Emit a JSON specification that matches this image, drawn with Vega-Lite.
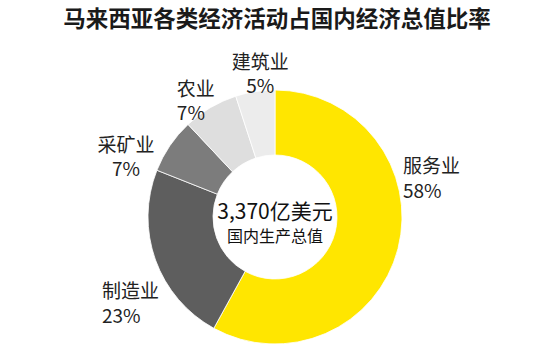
{
  "$schema": "https://vega.github.io/schema/vega-lite/v6.json",
  "width": 500,
  "height": 294,
  "autosize": "none",
  "padding": {"left": 25, "top": 70, "right": 14, "bottom": 0},
  "background": "white",
  "title": {
    "text": "马来西亚各类经济活动占国内经济总值比率",
    "font": "Noto Sans CJK SC",
    "fontSize": 22.5,
    "fontWeight": "bold",
    "color": "#1a1a1a",
    "anchor": "middle",
    "frame": "group",
    "dx": 2,
    "offset": 22
  },
  "config": {"view": {"stroke": null}},
  "layer": [
    {
      "data": {
        "values": [
          {"category": "服务业", "value": 58, "order": 1},
          {"category": "制造业", "value": 23, "order": 2},
          {"category": "采矿业", "value": 7, "order": 3},
          {"category": "农业", "value": 7, "order": 4},
          {"category": "建筑业", "value": 5, "order": 5}
        ]
      },
      "transform": [
        {"stack": "value", "groupby": [], "sort": [{"field": "order", "order": "ascending"}], "as": ["v0", "v1"]},
        {"calculate": "datum.category + '\\n' + datum.value + '%'", "as": "label"}
      ],
      "encoding": {
        "theta": {"field": "v0", "type": "quantitative", "scale": {"domain": [0, 100]}},
        "theta2": {"field": "v1"}
      },
      "layer": [
        {
          "mark": {"type": "arc", "innerRadius": 62, "outerRadius": 127, "stroke": "white", "strokeWidth": 0.8},
          "encoding": {
            "color": {
              "field": "category",
              "type": "nominal",
              "scale": {
                "domain": ["服务业", "制造业", "采矿业", "农业", "建筑业"],
                "range": ["#FFE600", "#5e5e5e", "#7c7c7c", "#dedede", "#ececec"]
              },
              "legend": null
            }
          }
        },
        {
          "transform": [{"filter": "datum.category === '服务业'"}],
          "mark": {"type": "text", "radius": 158, "font": "Noto Sans CJK SC", "fontSize": 19, "lineBreak": "\n", "lineHeight": 24.5, "align": "left", "baseline": "middle", "dx": 128, "dy": 108, "color": "#222"},
          "encoding": {"text": {"field": "label", "type": "nominal"}}
        },
        {
          "transform": [{"filter": "datum.category === '制造业'"}],
          "mark": {"type": "text", "radius": 158, "font": "Noto Sans CJK SC", "fontSize": 19, "lineBreak": "\n", "lineHeight": 24.5, "align": "left", "baseline": "middle", "dx": -97, "dy": -63, "color": "#222"},
          "encoding": {"text": {"field": "label", "type": "nominal"}}
        },
        {
          "transform": [{"filter": "datum.category === '采矿业'"}],
          "mark": {"type": "text", "radius": 158, "font": "Noto Sans CJK SC", "fontSize": 19, "lineBreak": "\n", "lineHeight": 24.5, "align": "center", "baseline": "middle", "dx": -2, "dy": -13, "color": "#222"},
          "encoding": {"text": {"field": "label", "type": "nominal"}}
        },
        {
          "transform": [{"filter": "datum.category === '农业'"}],
          "mark": {"type": "text", "radius": 158, "font": "Noto Sans CJK SC", "fontSize": 19, "lineBreak": "\n", "lineHeight": 24.5, "align": "left", "baseline": "middle", "dx": 10, "dy": -12, "color": "#222"},
          "encoding": {"text": {"field": "label", "type": "nominal"}}
        },
        {
          "transform": [{"filter": "datum.category === '建筑业'"}],
          "mark": {"type": "text", "radius": 158, "font": "Noto Sans CJK SC", "fontSize": 19, "lineBreak": "\n", "lineHeight": 24.5, "align": "center", "baseline": "middle", "dx": 34, "dy": -4, "color": "#222"},
          "encoding": {"text": {"field": "label", "type": "nominal"}}
        }
      ]
    },
    {
      "data": {"values": [{"gdp": "3,370亿美元", "sub": "国内生产总值"}]},
      "layer": [
        {
          "mark": {"type": "text", "font": "Noto Sans CJK SC", "fontSize": 21, "align": "center", "baseline": "middle", "dy": -4, "color": "#111"},
          "encoding": {"text": {"field": "gdp", "type": "nominal"}}
        },
        {
          "mark": {"type": "text", "font": "Noto Sans CJK SC", "fontSize": 16, "align": "center", "baseline": "middle", "dy": 20, "color": "#111"},
          "encoding": {"text": {"field": "sub", "type": "nominal"}}
        }
      ]
    }
  ]
}
